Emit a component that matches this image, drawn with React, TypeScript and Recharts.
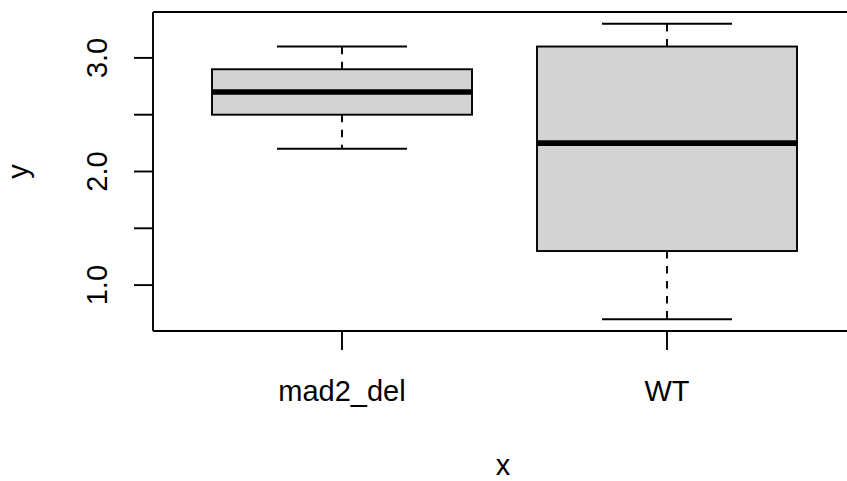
import React from 'react';
import { ComposedChart, Bar, XAxis, YAxis, ReferenceLine, Label } from 'recharts';

const categories = ['mad2_del', 'WT'];
const whiskerLow = [2.2, 0.7];
const quartile1 = [2.5, 1.3];
const median = [2.7, 2.25];
const quartile3 = [2.9, 3.1];
const whiskerHigh = [3.1, 3.3];
const yTicks = [1.0, 1.5, 2.0, 2.5, 3.0];
const yTickLabels: Record<string, string> = { '1': '1.0', '2': '2.0', '3': '3.0' };

const data = categories.map((name, i) => ({
  name,
  lo: whiskerLow[i],
  q1: quartile1[i],
  med: median[i],
  q3: quartile3[i],
  hi: whiskerHigh[i],
}));

const allLo = Math.min(...whiskerLow);
const allHi = Math.max(...whiskerHigh);
const pad = (allHi - allLo) * 0.04;
const yMin = allLo - pad;
const yMax = allHi + pad;

const FONT = '"Liberation Sans", Arial, Helvetica, sans-serif';
const FS = 29;
const LW = 1.9;

const BoxShape = (props: any) => {
  const { x, y, width, height, payload } = props;
  if (!payload) return null;
  const { lo, q1, med, q3, hi } = payload;
  const toPx = (v: number) => y + (height * (hi - v)) / (hi - lo);
  const cx = x + width / 2;
  const capL = x + width / 4;
  const capR = x + (3 * width) / 4;
  return (
    <g>
      <line x1={cx} x2={cx} y1={toPx(q3)} y2={toPx(hi)} stroke="#000" strokeWidth={LW} strokeDasharray="7.5 7.5" />
      <line x1={cx} x2={cx} y1={toPx(q1)} y2={toPx(lo)} stroke="#000" strokeWidth={LW} strokeDasharray="7.5 7.5" />
      <line x1={capL} x2={capR} y1={toPx(hi)} y2={toPx(hi)} stroke="#000" strokeWidth={LW} />
      <line x1={capL} x2={capR} y1={toPx(lo)} y2={toPx(lo)} stroke="#000" strokeWidth={LW} />
      <rect x={x} y={toPx(q3)} width={width} height={toPx(q1) - toPx(q3)} fill="#d3d3d3" stroke="#000" strokeWidth={LW} />
      <line x1={x} x2={x + width} y1={toPx(med)} y2={toPx(med)} stroke="#000" strokeWidth={5.7} />
    </g>
  );
};

const XTick = (props: any) => {
  const { x, y, payload } = props;
  return (
    <text x={x} y={y} textAnchor="middle" fontFamily={FONT} fontSize={FS} fill="#000">
      {payload.value}
    </text>
  );
};

const YTick = (props: any) => {
  const { x, y, payload } = props;
  const label = yTickLabels[String(payload.value)];
  if (!label) return <g />;
  return (
    <text x={x} y={y} transform={`rotate(-90, ${x}, ${y})`} textAnchor="middle" fontFamily={FONT} fontSize={FS} fill="#000">
      {label}
    </text>
  );
};

const XTitle = (props: any) => {
  const vb = props.viewBox || { x: 153, y: 331, width: 700, height: 150 };
  const cx = vb.x + vb.width / 2;
  return (
    <text x={cx} y={vb.y + 144} textAnchor="middle" fontFamily={FONT} fontSize={FS} fill="#000">
      x
    </text>
  );
};

const YTitle = (props: any) => {
  const vb = props.viewBox || { x: 0, y: 12, width: 153, height: 319 };
  const tx = vb.x + 28;
  const ty = vb.y + vb.height / 2;
  return (
    <text x={tx} y={ty} transform={`rotate(-90, ${tx}, ${ty})`} textAnchor="middle" fontFamily={FONT} fontSize={FS} fill="#000">
      y
    </text>
  );
};

export default function App() {
  return (
    <div style={{ position: 'absolute', left: 0, top: 0, width: 847, height: 481, overflow: 'hidden', background: '#fff' }}>
      <ComposedChart
        width={870}
        height={481}
        data={data}
        margin={{ top: 12, right: 17, left: 0, bottom: 0 }}
        barCategoryGap="10%"
      >
        <XAxis
          dataKey="name"
          type="category"
          height={150}
          padding={{ left: 26.5, right: 23.5 }}
          tickSize={19}
          tickMargin={51}
          axisLine={{ stroke: '#000', strokeWidth: LW }}
          tickLine={{ stroke: '#000', strokeWidth: LW }}
          tick={<XTick />}
          interval={0}
        >
          <Label content={<XTitle />} />
        </XAxis>
        <YAxis
          type="number"
          domain={[yMin, yMax]}
          allowDataOverflow
          ticks={yTicks}
          width={153}
          tickSize={19}
          tickMargin={27}
          axisLine={{ stroke: '#000', strokeWidth: LW }}
          tickLine={{ stroke: '#000', strokeWidth: LW }}
          tick={<YTick />}
          interval={0}
        >
          <Label content={<YTitle />} />
        </YAxis>
        <ReferenceLine y={yMax} stroke="#000" strokeWidth={LW} ifOverflow="visible" />
        <Bar
          dataKey={(d: any) => [d.lo, d.hi]}
          shape={(p: any) => <BoxShape {...p} />}
          isAnimationActive={false}
        />
      </ComposedChart>
    </div>
  );
}
